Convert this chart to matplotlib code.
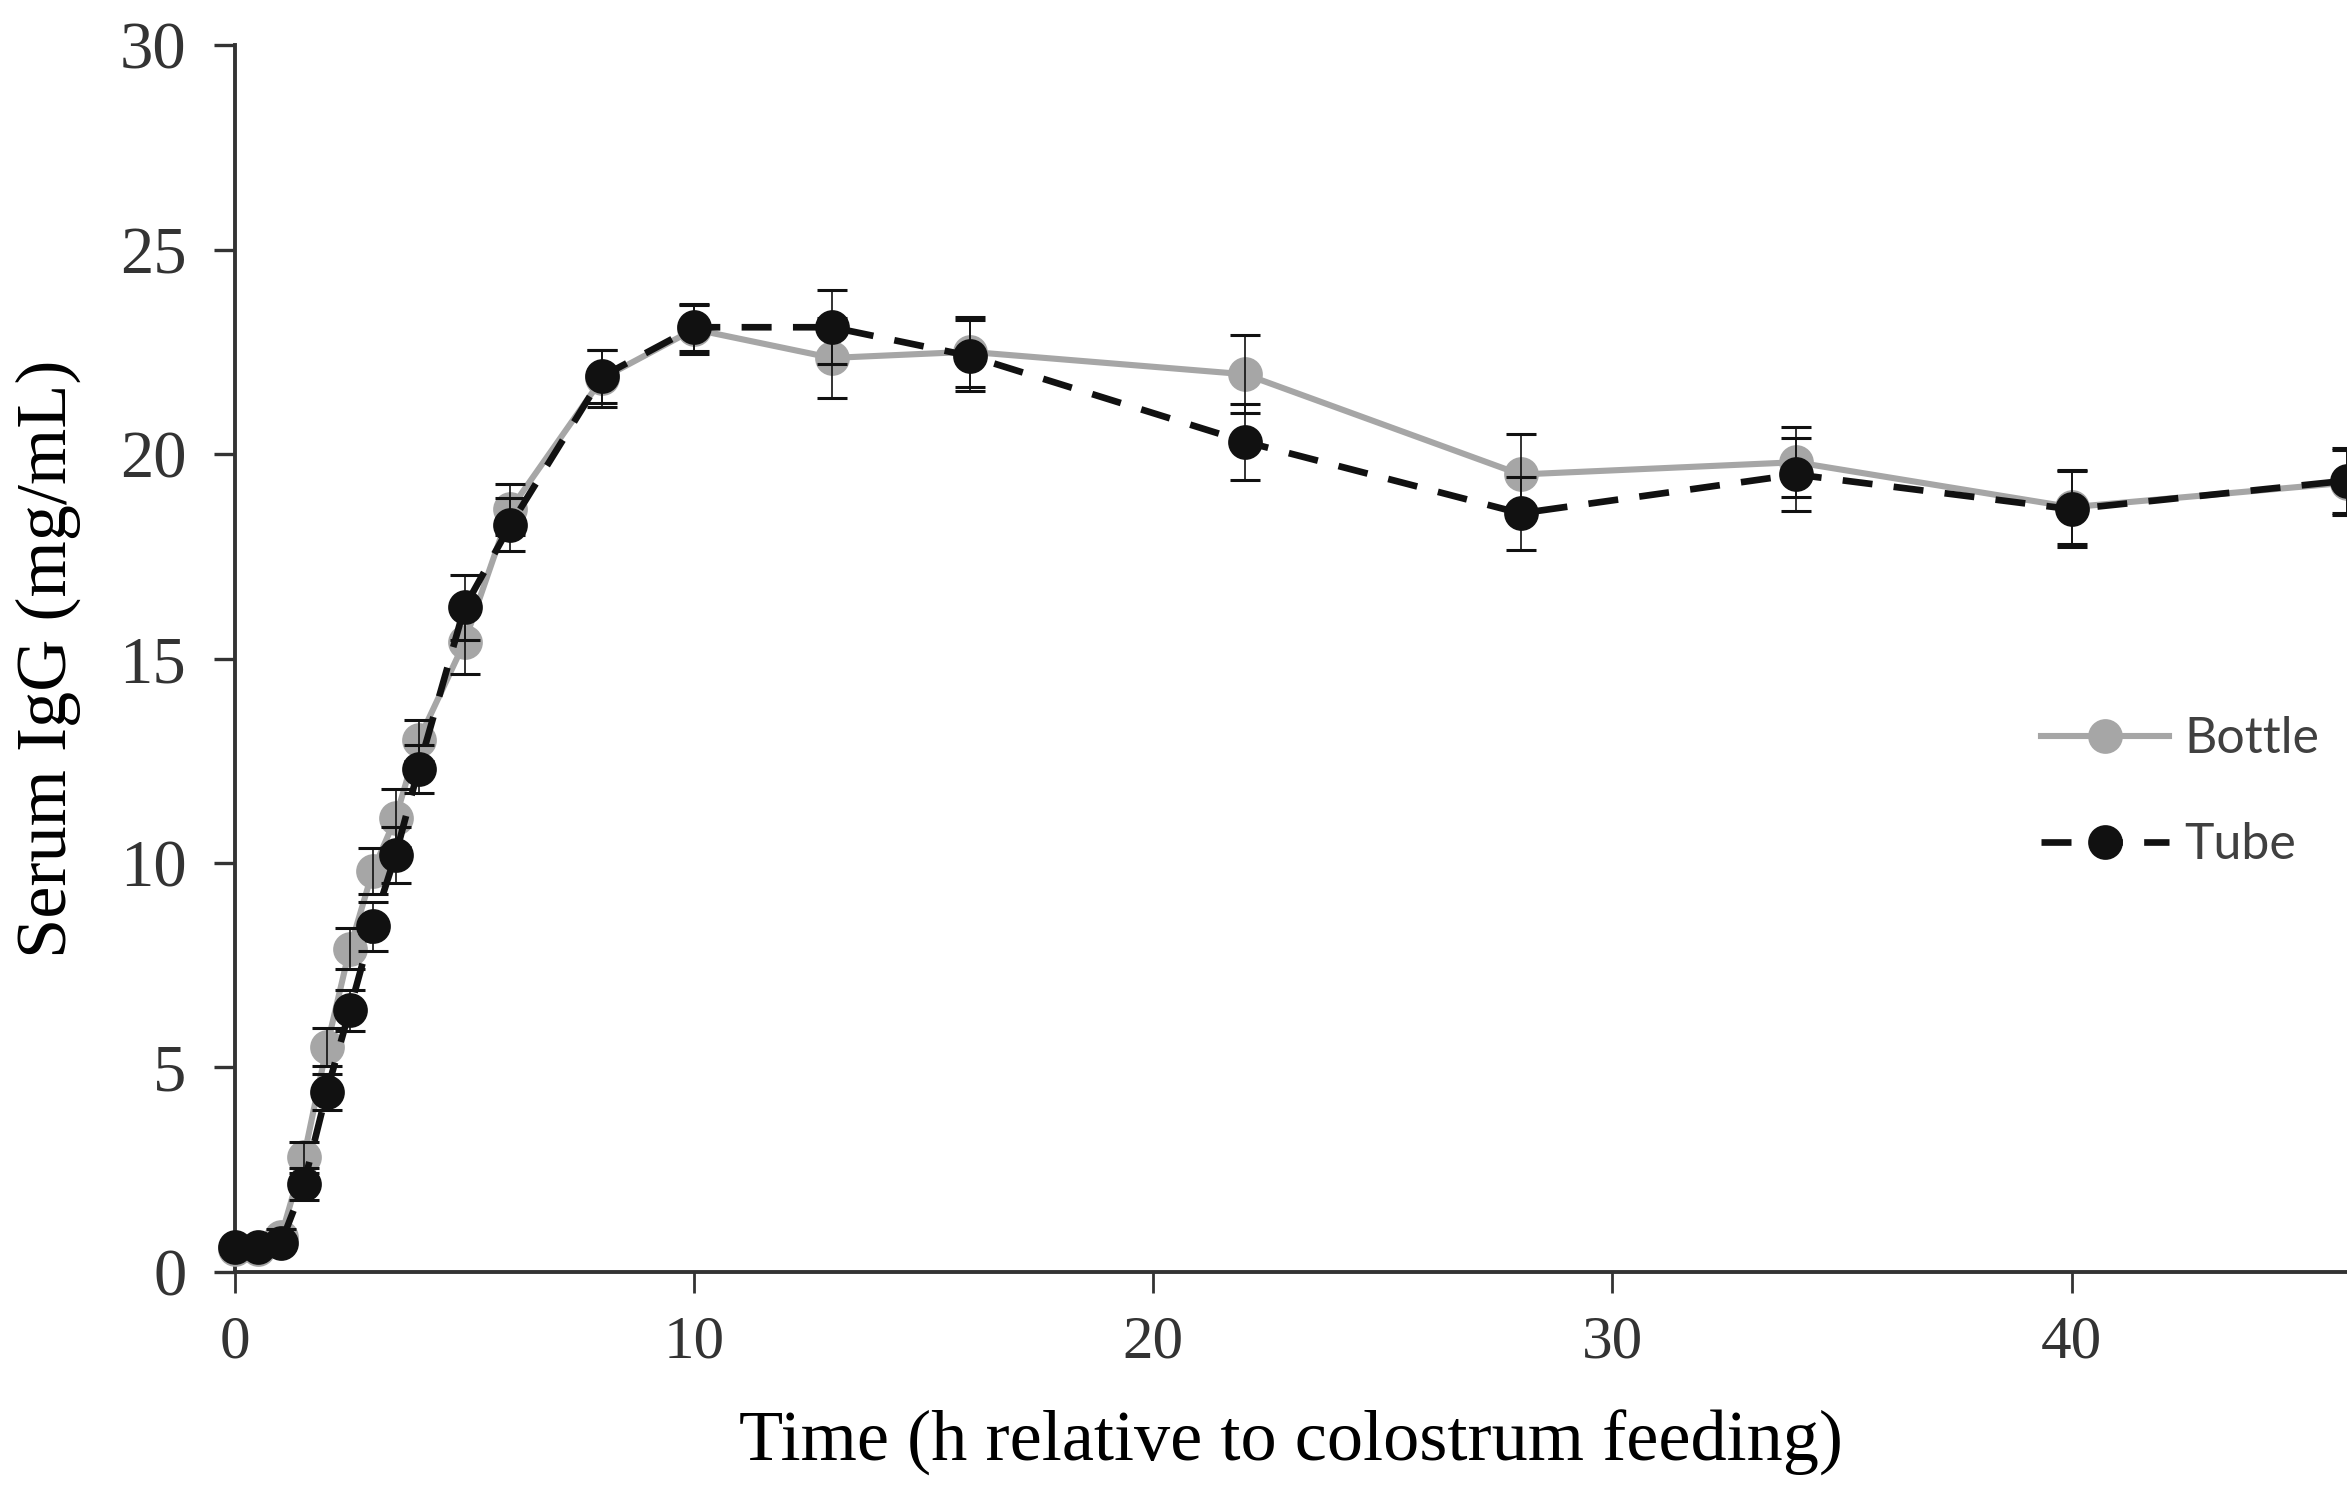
import matplotlib
matplotlib.use("Agg")
import matplotlib.pyplot as plt

# Tiempo (h) respecto a la toma de calostro
hours = [0, 0.5, 1, 1.5, 2, 2.5, 3, 3.5, 4, 5, 6, 8, 10, 13, 16, 22, 28, 34, 40, 46]

# IgG serica (mg/mL), media y error
bottle_igg = [0.55, 0.55, 0.85, 2.8, 5.5, 7.9, 9.8, 11.1, 13.0, 15.4, 18.65, 21.85, 23.05,
              22.35, 22.5, 21.95, 19.5, 19.8, 18.7, 19.3]
bottle_err = [0.1, 0.1, 0.2, 0.38, 0.47, 0.5, 0.57, 0.7, 0.5, 0.78, 0.62, 0.7, 0.6,
              0.97, 0.85, 0.95, 0.98, 0.85, 0.9, 0.8]
tube_igg = [0.6, 0.6, 0.7, 2.15, 4.4, 6.4, 8.45, 10.2, 12.3, 16.25, 18.27, 21.9, 23.1,
            23.1, 22.4, 20.3, 18.55, 19.5, 18.65, 19.35]
tube_err = [0.1, 0.1, 0.15, 0.4, 0.44, 0.5, 0.6, 0.69, 0.58, 0.8, 0.65, 0.65, 0.57,
            0.9, 0.87, 0.93, 0.9, 0.9, 0.93, 0.8]

y_ticks = [0, 5, 10, 15, 20, 25, 30]
x_ticks = [0, 10, 20, 30, 40]

GRAY = "#a6a6a6"
BLACK = "#111111"
AXIS = "#333333"

plt.rcParams.update({
    "font.family": ["Liberation Serif", "DejaVu Serif"],
    "axes.edgecolor": AXIS,
    "xtick.color": AXIS,
    "ytick.color": AXIS,
})

fig = plt.figure(figsize=(11.735, 7.435), dpi=200)
ax = fig.add_axes([0.1001, 0.1446, 0.8999, 0.8251])

ln_b, = ax.plot(hours, bottle_igg, color=GRAY, linewidth=2.2, marker="o", markersize=11.5,
                markerfacecolor=GRAY, markeredgecolor=GRAY, clip_on=False, zorder=3,
                label="Bottle")
ln_t, = ax.plot(hours, tube_igg, color=BLACK, linewidth=2.4, dashes=(4.5, 3.2), marker="o",
                markersize=11.5, markerfacecolor=BLACK, markeredgecolor=BLACK, clip_on=False,
                zorder=4, label="Tube")
ax.errorbar(hours, bottle_igg, yerr=bottle_err, fmt="none", ecolor=BLACK, elinewidth=0.6,
            capsize=5.5, capthick=1.1, zorder=5, clip_on=False)
ax.errorbar(hours, tube_igg, yerr=tube_err, fmt="none", ecolor=BLACK, elinewidth=0.6,
            capsize=5.5, capthick=1.1, zorder=5, clip_on=False)

ax.set_xlim(0, 46)
ax.set_ylim(0, 30)
ax.set_xticks(x_ticks)
ax.set_yticks(y_ticks)
ax.spines["top"].set_visible(False)
ax.spines["right"].set_visible(False)
ax.spines["left"].set_linewidth(1.4)
ax.spines["bottom"].set_linewidth(1.4)
ax.tick_params(axis="y", length=7.5, width=1.2, pad=10, labelsize=24)
ax.tick_params(axis="x", length=7.5, width=1.0, pad=8, labelsize=22)

ax.set_xlabel("Time (h relative to colostrum feeding)", fontsize=26, labelpad=14)
ax.set_ylabel("Serum IgG (mg/mL)", fontsize=26, labelpad=14)

ax.legend(handles=[ln_b, ln_t], loc="center left", bbox_to_anchor=(0.8435, 0.391),
          frameon=False, borderpad=0, handlelength=2.55, handletextpad=0.3,
          labelspacing=1.2, prop={"family": "Lato", "size": 18}, labelcolor="#404040")

fig.savefig("out.png", dpi=200, facecolor="white")
